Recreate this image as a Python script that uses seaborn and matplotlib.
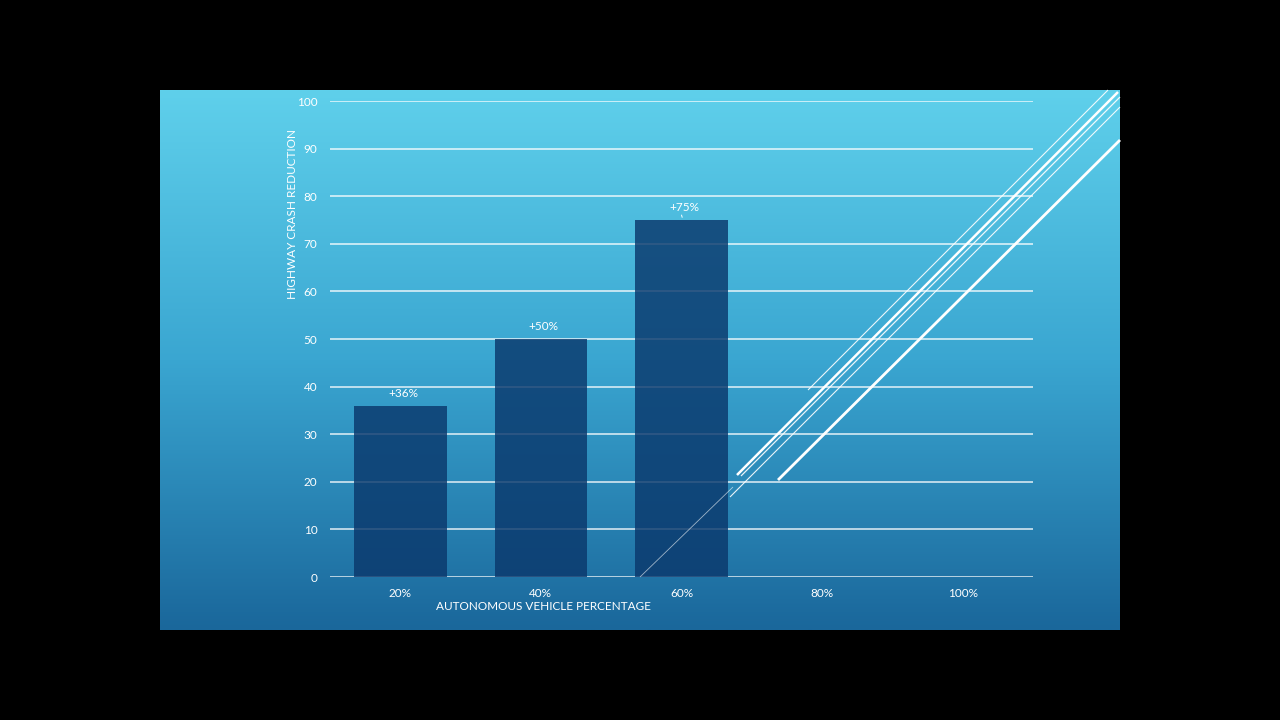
import numpy as np
import pandas as pd
import matplotlib
matplotlib.use("Agg")
import matplotlib.pyplot as plt
from matplotlib.lines import Line2D
import seaborn as sns

categories = ['20%', '40%', '60%', '80%', '100%']
values = [36, 50, 75, None, None]
bar_labels = ['+36%', '+50%', '+75%', '', '']
y_ticks = [0, 10, 20, 30, 40, 50, 60, 70, 80, 90, 100]

df = pd.DataFrame({'share': categories, 'reduction': values, 'label': bar_labels})

sns.set_theme(style='white')
plt.rcParams['font.family'] = ['Lato', 'DejaVu Sans']

W, H = 1280, 720
fig = plt.figure(figsize=(12.8, 7.2), dpi=100, facecolor='black')

def fx(px):
    return px / W

def fy(py):
    return 1 - py / H

# blue gradient slide panel
bg = fig.add_axes([fx(160), fy(630), fx(960), (630 - 90) / H], zorder=0)
grad = np.linspace(0, 1, 256).reshape(-1, 1)
cmap = matplotlib.colors.LinearSegmentedColormap.from_list(
    'slide', ['#5fd0eb', '#3aa6d1', '#1a679b'])
bg.imshow(grad, aspect='auto', cmap=cmap, extent=[0, 1, 0, 1], origin='upper')
bg.set_axis_off()

ax = fig.add_axes([fx(330), fy(577), fx(1033 - 330), (577 - 101) / H], zorder=2)
ax.patch.set_alpha(0)

for y in y_ticks:
    ax.axhline(y, color='white', lw=1.2, alpha=0.8, zorder=1)

sns.barplot(data=df.dropna(), x='share', y='reduction', order=categories,
            color='#0a386c', alpha=0.82, width=0.66, saturation=1,
            edgecolor='none', linewidth=0, ax=ax, zorder=3)

ax.set_xlim(-0.5, 4.5)
ax.set_ylim(0, 100)
ax.set_yticks(y_ticks)
ax.tick_params(axis='both', length=0, colors='white', labelsize=8.5)
ax.tick_params(axis='x', pad=8)
ax.tick_params(axis='y', pad=9)
ax.set_xlabel('')
ax.set_ylabel('')
for s in ax.spines.values():
    s.set_visible(False)

for i, row in df.dropna().iterrows():
    ax.annotate(row['label'], xy=(i, row['reduction']), xytext=(2, 5),
                textcoords='offset points', ha='center', va='bottom',
                color='white', fontsize=8.5)
ax.annotate('', xy=(2.01, 75), xytext=(1.995, 76.6),
            arrowprops=dict(arrowstyle='-', color='white', lw=0.7))

fig.text(fx(543), fy(606), 'AUTONOMOUS VEHICLE PERCENTAGE', color='white',
         fontsize=8.5, ha='center', va='center', zorder=5)
fig.text(fx(292), fy(214), 'HIGHWAY CRASH REDUCTION', color='white',
         fontsize=8.5, ha='center', va='center', rotation=90, zorder=5)

# decorative diagonal strokes on the slide
strokes = [
    ((808, 390), (1108, 90), 0.8, 0.9),
    ((737, 475), (1118, 92), 1.8, 1.0),
    ((741, 476), (1120, 97), 0.9, 0.9),
    ((730, 497), (1120, 107), 0.8, 0.9),
    ((640, 577), (733, 487), 0.6, 0.6),
    ((778, 480), (1120, 140), 2.0, 1.0),
]
for (x0, y0), (x1, y1), lw, a in strokes:
    fig.add_artist(Line2D([fx(x0), fx(x1)], [fy(y0), fy(y1)], color='white',
                          lw=lw, alpha=a, zorder=6, solid_capstyle='butt'))

fig.savefig('out.png', dpi=100, facecolor='black')
